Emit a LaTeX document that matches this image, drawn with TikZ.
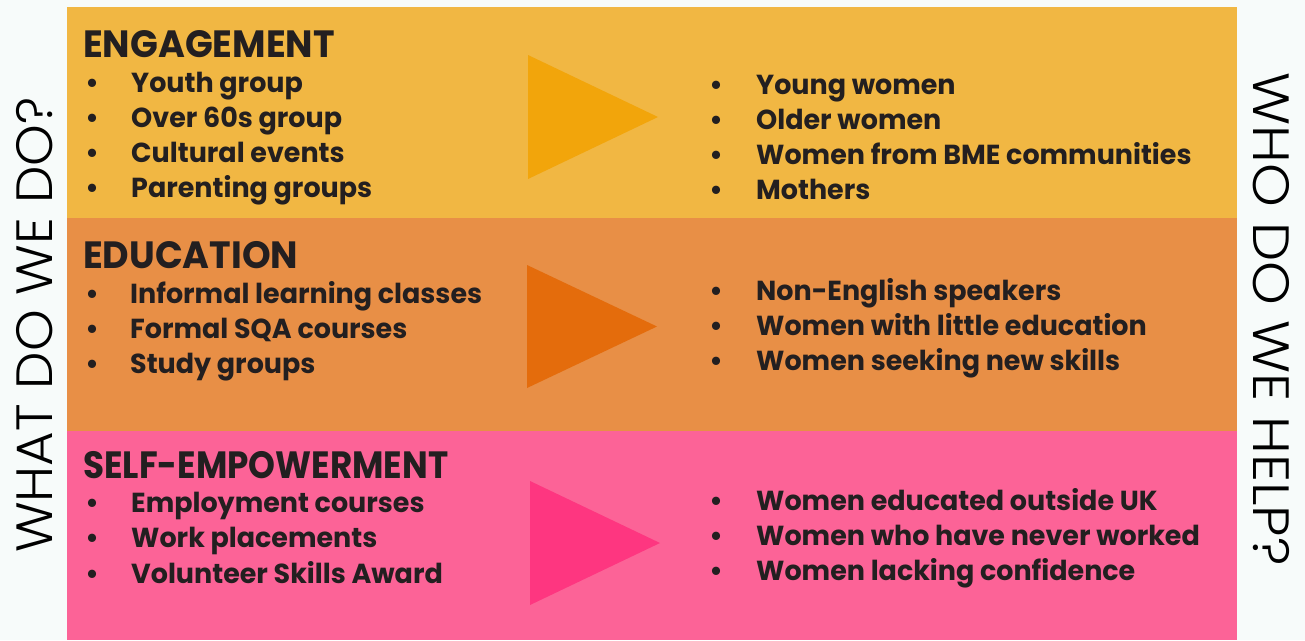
\documentclass[tikz,border=0pt]{standalone}
\usepackage{fontspec}
\setmainfont{Poppins}
\newfontfamily\itemfont{Poppins}[FakeStretch=0.98]
\newfontfamily\headfont{Poppins}[FakeStretch=0.96]
\newfontfamily\headfontN{Poppins}[FakeStretch=0.90]
\newfontfamily\sidefontL{Poppins Light}[FakeStretch=1.04]
\newfontfamily\sidefontR{Poppins Light}[FakeStretch=1.09]
\definecolor{bgc}{HTML}{F7FBFA}
\definecolor{bandA}{HTML}{F1B743}
\definecolor{bandB}{HTML}{E88F46}
\definecolor{bandC}{HTML}{FC6397}
\definecolor{triA}{HTML}{F2A50B}
\definecolor{triB}{HTML}{E46C0C}
\definecolor{triC}{HTML}{FE3680}
\definecolor{ink}{HTML}{231F20}
\tikzset{
  headtxt/.style={anchor=base west, inner sep=0pt, text=ink, font=\headfont\bfseries\fontsize{38}{40}\selectfont},
  itemtxt/.style={anchor=base west, inner sep=0pt, text=ink, font=\itemfont\bfseries\fontsize{27.5}{30}\selectfont},
  bultxt/.style={anchor=base, inner sep=0pt, text=ink, font=\itemfont\bfseries\fontsize{27.5}{30}\selectfont},
  sidetxt/.style={inner sep=0pt, text=black, anchor=base},
}
\begin{document}
\begin{tikzpicture}[x=1pt,y=-1pt]
\useasboundingbox (0,0) rectangle (1305,640);
\fill[bgc] (0,0) rectangle (1305,640);
\fill[bandA] (67,7) rectangle (1237,218);
\fill[bandB] (67,218) rectangle (1237,431);
\fill[bandC] (67,431) rectangle (1237,640);
\fill[triA] (528,55) -- (658,117) -- (528,179) -- cycle;
\fill[triB] (527,265) -- (657,326.5) -- (527,388) -- cycle;
\fill[triC] (530,481) -- (660,543) -- (530,605) -- cycle;
% side labels
\node[sidetxt, rotate=90, font=\sidefontL\fontsize{51}{54}\selectfont] (whatdo) at (52,325) {WHAT DO WE DO?};
\node[sidetxt, rotate=-90, font=\sidefontR\fontsize{51}{54}\selectfont] (whohelp) at (1253,319) {WHO DO WE HELP?};
% headings
\node[headtxt] (h1) at (83,57) {ENGAGEMENT};
\node[headtxt] (h2) at (83,268) {EDUCATION};
\node[headtxt, font=\headfontN\bfseries\fontsize{38}{40}\selectfont] (h3) at (83,478) {SELF-EMPOWERMENT};
% left items
\foreach \t/\y/\n in {Youth group/92/a1, Over 60s group/127/a2, Cultural events/162/a3, Parenting groups/197/a4}{
  \node[bultxt] (b\n) at (92,\y) {•};
  \node[itemtxt] (\n) at (131,\y) {\t};
}
\foreach \t/\y/\n in {Informal learning classes/303/c1, Formal SQA courses/338/c2, Study groups/373/c3}{
  \node[bultxt] (b\n) at (92,\y) {•};
  \node[itemtxt] (\n) at (130,\y) {\t};
}
\foreach \t/\y/\n in {Employment courses/512/e1, Work placements/547/e2, Volunteer Skills Award/583/e3}{
  \node[bultxt] (b\n) at (92,\y) {•};
  \node[itemtxt] (\n) at (131,\y) {\t};
}
% right items
\foreach \t/\y/\n in {Young women/94/r1, Older women/129/r2, Women from BME communities/164/r3, Mothers/199/r4}{
  \node[bultxt] (b\n) at (716,\y) {•};
  \node[itemtxt] (\n) at (756,\y) {\t};
}
\foreach \t/\y/\n in {Non-English speakers/300/s1, Women with little education/335/s2, Women seeking new skills/370/s3}{
  \node[bultxt] (b\n) at (716,\y) {•};
  \node[itemtxt] (\n) at (756,\y) {\t};
}
\foreach \t/\y/\n in {Women educated outside UK/510/t1, Women who have never worked/545/t2, Women lacking confidence/580/t3}{
  \node[bultxt] (b\n) at (716,\y) {•};
  \node[itemtxt] (\n) at (756,\y) {\t};
}
\end{tikzpicture}
\end{document}
